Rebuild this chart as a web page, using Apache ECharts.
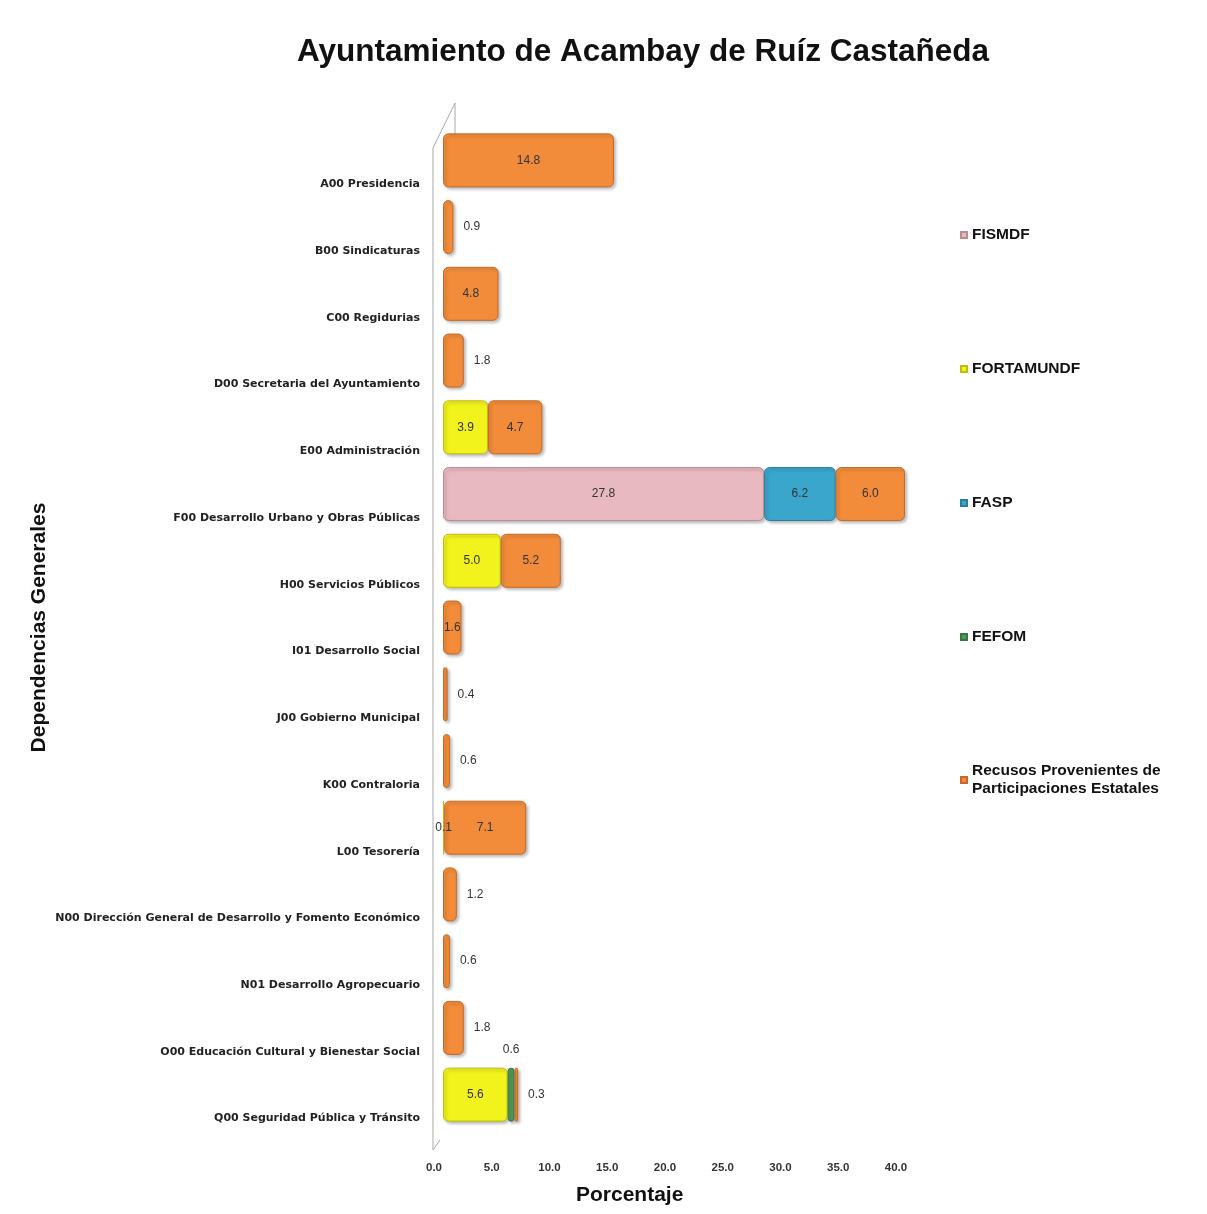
<!DOCTYPE html>
<html>
<head>
<meta charset="utf-8">
<script src="https://cdn.jsdelivr.net/npm/echarts@6/dist/echarts.min.js"></script>
<style>
	html, body { margin: 0; padding: 0; background: #fff; }
	#main { width: 1207px; height: 1214px; }
</style>
</head>
<body>
<div id="main"></div>
<script>
// categorias (dependencias)
var categories = [
	'A00 Presidencia',
	'B00 Sindicaturas',
	'C00 Regidurias',
	'D00 Secretaria del Ayuntamiento',
	'E00 Administración',
	'F00 Desarrollo Urbano y Obras Públicas',
	'H00 Servicios Públicos',
	'I01 Desarrollo Social',
	'J00 Gobierno Municipal',
	'K00 Contraloria',
	'L00 Tesorería',
	'N00 Dirección General de Desarrollo y Fomento Económico',
	'N01 Desarrollo Agropecuario',
	'O00 Educación Cultural y Bienestar Social',
	'Q00 Seguridad Pública y Tránsito'
];
// porcentaje por fondo
var fismdf     = [0, 0, 0, 0, 0,   27.8, 0,   0, 0, 0, 0,   0, 0, 0, 0];
var fortamundf = [0, 0, 0, 0, 3.9, 0,    5.0, 0, 0, 0, 0.1, 0, 0, 0, 5.6];
var fasp       = [0, 0, 0, 0, 0,   6.2,  0,   0, 0, 0, 0,   0, 0, 0, 0];
var fefom      = [0, 0, 0, 0, 0,   0,    0,   0, 0, 0, 0,   0, 0, 0, 0.6];
var recursos   = [14.8, 0.9, 4.8, 1.8, 4.7, 6.0, 5.2, 1.6, 0.4, 0.6, 7.1, 1.2, 0.6, 1.8, 0.3];
var xTicks = [0, 5, 10, 15, 20, 25, 30, 35, 40];

var recName = 'Recusos Provenientes de Participaciones Estatales';

var myChart = echarts.init(document.getElementById('main'));

// posicion de la etiqueta de cada barra
function makeData(values, serie) {
	return values.map(function(v, i) {
		if (!v) return null;
		var pos = v >= 2.5 ? 'inside' : 'right';
		if (categories[i].indexOf('I01') === 0) pos = 'inside';
		if (serie === 'FORTAMUNDF' && v < 0.5) pos = 'inside';
		if (serie === 'FEFOM') pos = 'top';
		return {
			value: v,
			label: { position: pos, distance: pos === 'inside' ? 0 : (pos === 'top' ? 12 : 10) }
		};
	});
}

function bar(name, values, color, border) {
	return {
		name: name,
		type: 'bar',
		stack: 'total',
		barWidth: 54,
		itemStyle: {
			color: color,
			borderColor: border,
			borderWidth: 1,
			borderRadius: 5,
			shadowColor: 'rgba(0,0,0,0.25)',
			shadowBlur: 3,
			shadowOffsetX: 2,
			shadowOffsetY: 2
		},
		label: {
			show: true,
			color: '#333',
			fontSize: 12,
			fontFamily: 'Liberation Sans Narrow, Liberation Sans, Arial',
			formatter: function(p) { return p.value ? p.value.toFixed(1) : ''; }
		},
		data: makeData(values, name)
	};
}

var option = {
	backgroundColor: '#fff',
	animation: false,
	title: {
		text: 'Ayuntamiento de Acambay de Ruíz Castañeda',
		left: 292,
		top: 31,
		textStyle: {
			fontFamily: 'Liberation Sans, Arial',
			fontSize: 31.5,
			fontWeight: 'bold',
			color: '#111'
		}
	},
	legend: {
		orient: 'vertical',
		left: 955,
		top: 221,
		itemGap: 116,
		itemWidth: 6,
		itemHeight: 6,
		icon: 'rect',
		textStyle: {
			fontFamily: 'Liberation Sans, Arial',
			fontSize: 15.5,
			fontWeight: 'bold',
			color: '#111',
			lineHeight: 18
		},
		formatter: function(name) {
			return name === recName ? 'Recusos Provenientes de\nParticipaciones Estatales' : name;
		},
		data: ['FISMDF', 'FORTAMUNDF', 'FASP', 'FEFOM', recName]
	},
	grid: {
		left: 443,
		right: 302,
		top: 127,
		bottom: 86
	},
	xAxis: {
		type: 'value',
		min: 0,
		max: 40,
		interval: 5,
		splitLine: { show: false },
		axisLine: { show: false },
		axisTick: { show: false },
		axisLabel: {
			margin: 34,
			padding: [0, 18, 0, 0],
			fontFamily: 'Liberation Sans, Arial',
			fontSize: 11.5,
			fontWeight: 'bold',
			color: '#333',
			formatter: function(v) { return xTicks.indexOf(v) >= 0 ? v.toFixed(1) : ''; }
		}
	},
	yAxis: {
		type: 'category',
		inverse: true,
		data: categories,
		axisLine: { show: false },
		axisTick: { show: false },
		axisLabel: {
			margin: 23,
			verticalAlign: 'top',
			lineHeight: 48,
			fontFamily: 'DejaVu Sans, Liberation Sans',
			fontSize: 11,
			fontWeight: 'bold',
			color: '#222'
		},
		name: 'Dependencias Generales',
		nameLocation: 'middle',
		nameGap: 393,
		nameTextStyle: {
			fontFamily: 'Liberation Sans, Arial',
			fontSize: 21,
			fontWeight: 'bold',
			color: '#111'
		}
	},
	graphic: [
		// pared del grafico 3D
		{ type: 'polyline', silent: true, z: 0, shape: { points: [[433, 1150], [433, 148], [455, 103], [455, 135]] }, style: { stroke: '#aaa', lineWidth: 1, fill: null } },
		{ type: 'line', silent: true, z: 0, shape: { x1: 433, y1: 1150, x2: 440, y2: 1140 }, style: { stroke: '#aaa', lineWidth: 1 } },
		{
			type: 'text',
			left: 576,
			top: 1185,
			style: {
				text: 'Porcentaje',
				font: 'bold 21px "Liberation Sans", Arial',
				fill: '#111'
			}
		}
	],
	series: [
		bar('FISMDF', fismdf, '#E8B9C0', '#B98C93'),
		bar('FORTAMUNDF', fortamundf, '#F2F21C', '#BDBD10'),
		bar('FASP', fasp, '#3AA6CC', '#2A7E9C'),
		bar('FEFOM', fefom, '#4E9A58', '#3A7442'),
		bar(recName, recursos, '#F28C3A', '#C56A26')
	]
};

myChart.setOption(option);
</script>
</body>
</html>
